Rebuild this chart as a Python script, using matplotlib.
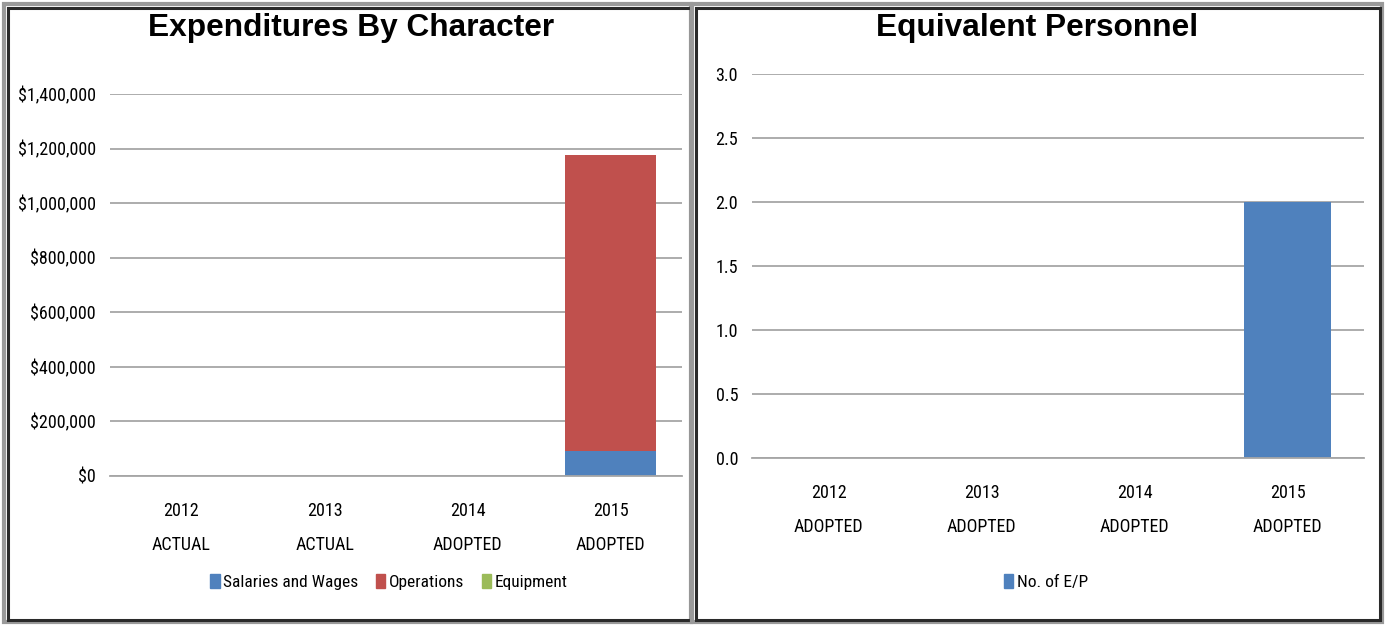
import matplotlib
matplotlib.use("Agg")
import matplotlib.pyplot as plt
from matplotlib import font_manager
from matplotlib.patches import Rectangle, Patch
from matplotlib.ticker import FuncFormatter
import numpy as np

# ---- data ----
exp_categories = ["2012\nACTUAL", "2013\nACTUAL", "2014\nADOPTED", "2015\nADOPTED"]
salaries = [0, 0, 0, 92000]
operations = [0, 0, 0, 1083000]
equipment = [0, 0, 0, 0]
exp_yticks = [0, 200000, 400000, 600000, 800000, 1000000, 1200000, 1400000]

ep_categories = ["2012\nADOPTED", "2013\nADOPTED", "2014\nADOPTED", "2015\nADOPTED"]
ep_values = [0, 0, 0, 2.0]
ep_yticks = [0.0, 0.5, 1.0, 1.5, 2.0, 2.5, 3.0]

BLUE = "#4F81BD"
RED = "#C0504D"
GREEN = "#9BBB59"
GRID = "#A6A6A6"

names = {f.name for f in font_manager.fontManager.ttflist}
narrow_fam = None
for cand in ["Liberation Sans Narrow", "DejaVu Sans Condensed", "Roboto Condensed",
             "Open Sans Condensed", "Noto Sans Condensed", "Arial Narrow"]:
    if cand in names:
        narrow_fam = cand
        break
if narrow_fam is None:
    NARROW = ["DejaVu Sans"]
    FS = 11
else:
    NARROW = [narrow_fam, "DejaVu Sans"]
    FS = 13

W, H = 1385, 625
fig = plt.figure(figsize=(W / 100, H / 100), dpi=100)
fig.patch.set_facecolor("white")

TITLE = ["Liberation Sans", "DejaVu Sans"]


def ax_rect(x0, y0, x1, y1):
    return [x0 / W, 1 - y1 / H, (x1 - x0) / W, (y1 - y0) / H]


def style(ax, cats, pad):
    for s in ["left", "right", "top"]:
        ax.spines[s].set_visible(False)
    ax.spines["bottom"].set_color(GRID)
    ax.spines["bottom"].set_linewidth(1.3)
    ax.yaxis.grid(True, color=GRID, linewidth=1.3)
    ax.set_axisbelow(True)
    ax.tick_params(axis="both", length=0)
    ax.tick_params(axis="y", pad=10)
    ax.tick_params(axis="x", pad=pad)
    ax.set_xticks(range(len(cats)))
    ax.set_xticklabels(cats, fontfamily=NARROW, fontsize=FS, linespacing=2.1)
    for lab in ax.get_yticklabels():
        lab.set_fontfamily(NARROW)
        lab.set_fontsize(FS)
    ax.set_xlim(-0.5, len(cats) - 0.5)


# ---- left chart ----
ax1 = fig.add_axes(ax_rect(110, 94, 682, 476))
x = np.arange(len(exp_categories))
bw = 0.64
ax1.bar(x, salaries, bw, color=BLUE, label="Salaries and Wages")
ax1.bar(x, operations, bw, bottom=salaries, color=RED, label="Operations")
bot2 = np.array(salaries) + np.array(operations)
ax1.bar(x, equipment, bw, bottom=bot2, color=GREEN, label="Equipment")
ax1.set_ylim(0, 1400000)
ax1.set_yticks(exp_yticks)
ax1.yaxis.set_major_formatter(FuncFormatter(lambda v, p: "${:,.0f}".format(v)))
style(ax1, exp_categories, 19)
fig.text(351 / W, 1 - 28 / H, "Expenditures By Character", ha="center", va="center",
         fontsize=22.8, fontweight="bold", fontfamily=TITLE)
h1 = [Patch(color=BLUE), Patch(color=RED), Patch(color=GREEN)]
fig.legend(h1, ["Salaries and Wages", "Operations", "Equipment"],
           loc="center", bbox_to_anchor=(389 / W, 1 - 582 / H), ncol=3, frameon=False,
           prop={"family": NARROW, "size": 12.5}, handlelength=0.55, handleheight=0.9,
           handletextpad=0.2, columnspacing=1.0)

# ---- right chart ----
ax2 = fig.add_axes(ax_rect(752, 74, 1364, 458))
x2 = np.arange(len(ep_categories))
ax2.bar(x2, ep_values, 0.57, color=BLUE, label="No. of E/P")
ax2.set_ylim(0, 3.0)
ax2.set_yticks(ep_yticks)
ax2.yaxis.set_major_formatter(FuncFormatter(lambda v, p: "{:.1f}".format(v)))
style(ax2, ep_categories, 19)
fig.text(1037 / W, 1 - 28 / H, "Equivalent Personnel", ha="center", va="center",
         fontsize=22.8, fontweight="bold", fontfamily=TITLE)
fig.legend([Patch(color=BLUE)], ["No. of E/P"], loc="center",
           bbox_to_anchor=(1046 / W, 1 - 582 / H), frameon=False,
           prop={"family": NARROW, "size": 12.5}, handlelength=0.55, handleheight=0.9,
           handletextpad=0.2)


# ---- frames ----
def frame(x0, y0, x1, y1, color, lw):
    fig.add_artist(Rectangle((x0 / W, 1 - y1 / H), (x1 - x0) / W, (y1 - y0) / H,
                             transform=fig.transFigure, fill=False, edgecolor=color,
                             linewidth=lw))


frame(4, 4, 691, 622, "#9A9A9A", 3)
frame(8, 8, 691, 620, "#2A2A2A", 2.2)
frame(692, 4, 1382, 622, "#9A9A9A", 3)
frame(696, 8, 1380, 620, "#2A2A2A", 2.2)

fig.savefig("out.png", dpi=100, facecolor="white")
